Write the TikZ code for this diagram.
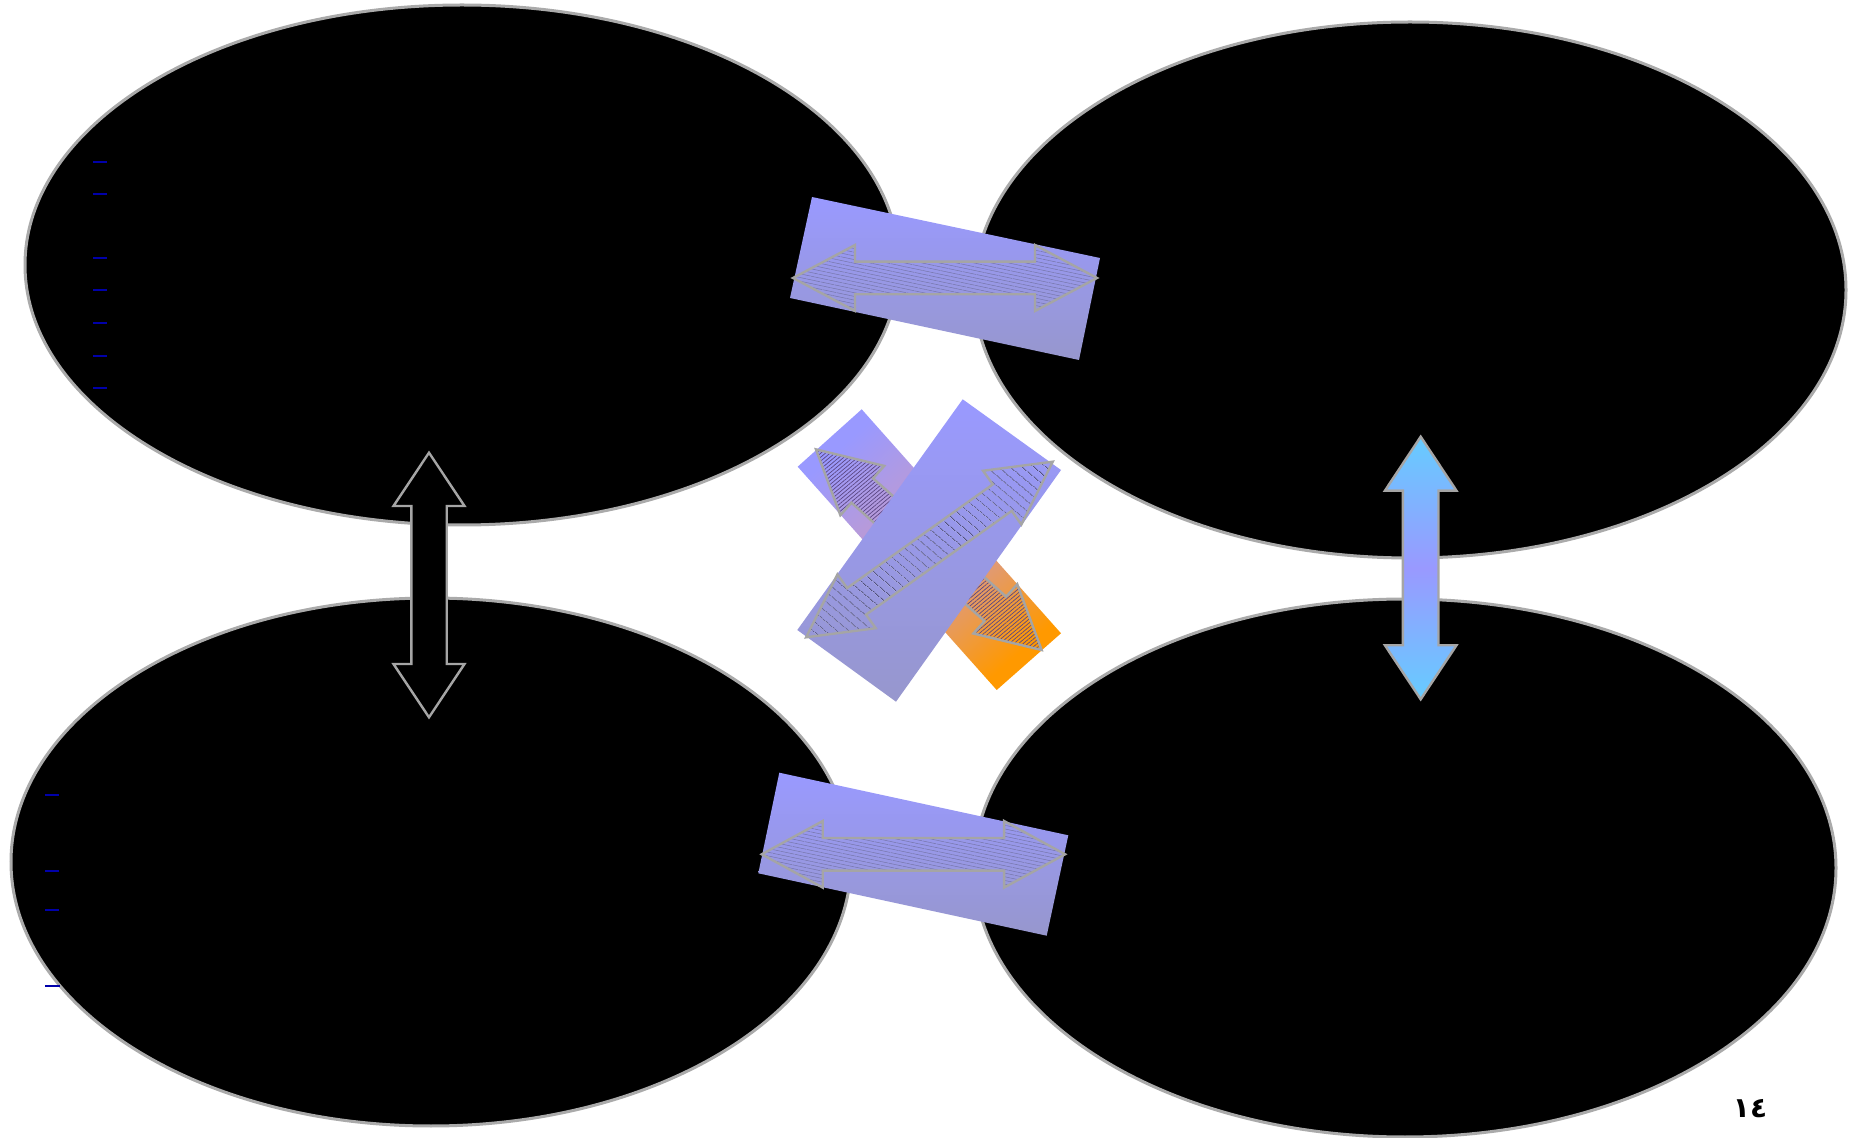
\documentclass[tikz,border=0pt]{standalone}
\usepackage{fontspec}
\newfontfamily\arabicfont[Script=Arabic]{DejaVu Sans}
\usetikzlibrary{shapes.geometric,patterns.meta}
\definecolor{edgegray}{RGB}{170,170,170}
\definecolor{arrgray}{RGB}{165,165,165}
\definecolor{peri}{RGB}{153,153,255}
\definecolor{perilow}{RGB}{151,151,205}
\definecolor{skyb}{RGB}{102,204,255}
\definecolor{orng}{RGB}{255,153,0}
\definecolor{mauve}{RGB}{205,155,190}
\definecolor{dashblue}{RGB}{0,0,170}
\definecolor{hatchA}{RGB}{118,118,170}
\definecolor{hatchB}{RGB}{80,80,120}
\definecolor{hatchC}{RGB}{90,70,130}
\newcommand{\dblarr}[8]{%
  \path[#8, shift={(#1,#2)}, rotate=#3]
    ({-#4/2},0) -- ({-#4/2+#5},{-#6}) -- ({-#4/2+#5},{-#7}) -- ({#4/2-#5},{-#7})
    -- ({#4/2-#5},{-#6}) -- ({#4/2},0) -- ({#4/2-#5},{#6}) -- ({#4/2-#5},{#7})
    -- ({-#4/2+#5},{#7}) -- ({-#4/2+#5},{#6}) -- cycle;}
\newcommand{\vdblarr}[7]{%
  \path[#7, shift={(#1,#2)}]
    (0,{-#3/2}) -- ({#5},{-#3/2+#4}) -- ({#6},{-#3/2+#4}) -- ({#6},{#3/2-#4})
    -- ({#5},{#3/2-#4}) -- (0,{#3/2}) -- ({-#5},{#3/2-#4}) -- ({-#6},{#3/2-#4})
    -- ({-#6},{-#3/2+#4}) -- ({-#5},{-#3/2+#4}) -- cycle;}
\tikzset{
  blob/.style={ellipse, draw=edgegray, fill=black, line width=1.5pt, inner sep=0pt},
  arrline/.style={draw=arrgray, line width=1.2pt, line join=miter},
  bullet/.style={draw=dashblue, line width=1pt},
}
\begin{document}
\begin{tikzpicture}[x=0.5pt,y=-0.5pt]
\useasboundingbox (0,0) rectangle (1849,1138);
% ellipses
\node[blob, minimum width=437pt, minimum height=260pt] (tl) at (462,265) {};
\node[blob, minimum width=436pt, minimum height=268pt] (tr) at (1410,290) {};
\node[blob, minimum width=420pt, minimum height=264pt] (bl) at (431,862) {};
\node[blob, minimum width=431pt, minimum height=269pt] (br) at (1405,868) {};
% bullets top-left
\foreach \yy in {162,194,258,290,323,356,388}
  \draw[bullet] (93,\yy) -- (107,\yy);
% bullets bottom-left
\foreach \yy in {795,871,910}
  \draw[bullet] (45,\yy) -- (59,\yy);
\draw[bullet, line width=1.3pt] (45,986) -- (60,986);
% top horizontal box
\shade[top color=peri, bottom color=perilow] (812,197) -- (1100,258) -- (1079,360) -- (790,298) -- cycle;
\dblarr{945}{278}{0}{304}{62}{33}{16.3}{arrline, pattern={Lines[angle=-12,distance=1.8pt,line width=0.25pt]}, pattern color=hatchA}
% bottom horizontal box
\shade[top color=peri, bottom color=perilow] (779.3,772.7) -- (1068.3,835.3) -- (1046.7,935.7) -- (758.3,873.3) -- cycle;
\dblarr{913.4}{854.3}{0}{303.3}{61}{33.3}{16.3}{arrline, pattern={Lines[angle=-12,distance=1.8pt,line width=0.25pt]}, pattern color=hatchA}
% left vertical arrow
\vdblarr{429}{585}{264.6}{53.3}{35.5}{17.7}{arrline, fill=black}
% right vertical arrow
\vdblarr{1420.7}{568}{262.6}{54}{35.8}{17.8}{arrline, top color=skyb, bottom color=skyb, middle color=peri}
% centre cross: back box
\shade[top color=peri, bottom color=orng, middle color=mauve, shading angle=42]
  (861.7,409.3) -- (1061,633.3) -- (996.7,690) -- (797.7,466.7) -- cycle;
\dblarr{928.8}{549.7}{-41.64}{302}{62}{33}{16.3}{arrline, pattern={Lines[angle=40,distance=1.5pt,line width=0.35pt]}, pattern color=hatchC}
% centre cross: front box
\shade[top color=peri, bottom color=perilow] (962.7,399.3) -- (1061,470) -- (896,701.7) -- (797.3,630) -- cycle;
\dblarr{929.4}{549.5}{35.45}{302.8}{62}{33}{16.3}{arrline, pattern={Lines[angle=-40,distance=4pt,line width=0.4pt]}, pattern color=hatchB}
% page number
\node[font=\arabicfont\fontsize{14}{16}\selectfont\bfseries, inner sep=0pt] (pg) at (1750,1109) {١٤};
\end{tikzpicture}
\end{document}
